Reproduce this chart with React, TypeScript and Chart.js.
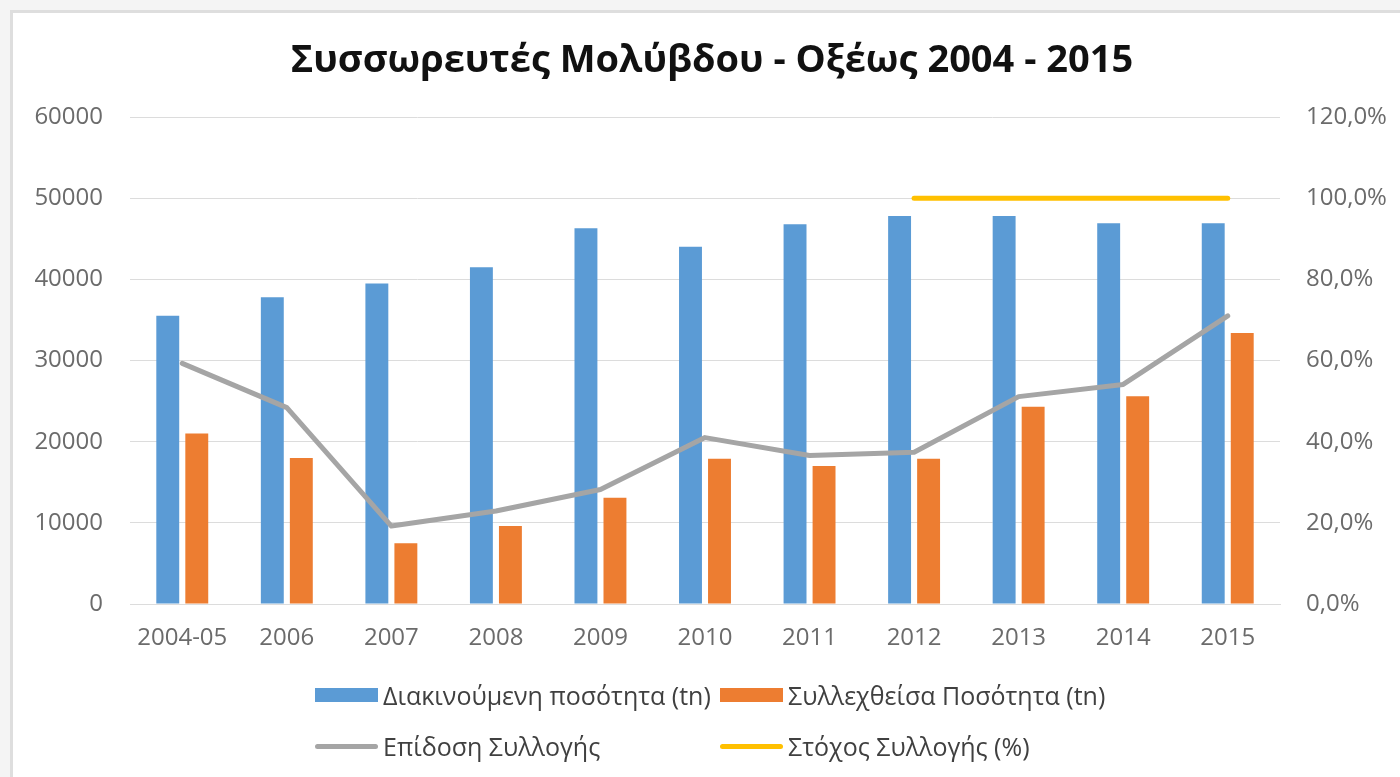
import React, { useEffect, useRef } from "react";
import { Chart, registerables } from "chart.js";

Chart.register(...registerables);

const categories = ["2004-05", "2006", "2007", "2008", "2009", "2010", "2011", "2012", "2013", "2014", "2015"];
const handledTonnes = [35500, 37800, 39500, 41500, 46300, 44000, 46800, 47800, 47800, 46900, 46900];
const collectedTonnes = [21000, 18000, 7500, 9600, 13100, 17900, 17000, 17900, 24300, 25600, 33400];
const collectionRate = [59.3, 48.4, 19.2, 22.9, 28.2, 41.0, 36.6, 37.4, 51.1, 54.1, 71.0];
const collectionTarget = [null, null, null, null, null, null, null, 100, 100, 100, 100];

const TITLE = "Συσσωρευτές Μολύβδου - Οξέως 2004 - 2015";
const LABEL_HANDLED = "Διακινούμενη ποσότητα (tn)";
const LABEL_COLLECTED = "Συλλεχθείσα Ποσότητα (tn)";
const LABEL_RATE = "Επίδοση Συλλογής";
const LABEL_TARGET = "Στόχος Συλλογής (%)";

const BLUE = "#5B9BD5";
const ORANGE = "#ED7D31";
const GRAY = "#A5A5A5";
const YELLOW = "#FFC000";
const TICK = "#6b6b6b";
const GRID = "#dcdcdc";

const tickFont = { family: "'Open Sans', 'Noto Sans', sans-serif", size: 24 };
const legendFont = "'Open Sans', 'Noto Sans', sans-serif";

export default function App() {
  const ref = useRef<HTMLCanvasElement | null>(null);

  useEffect(() => {
    document.body.style.margin = "0";
    const ctx = ref.current;
    if (!ctx) return;
    const chart = new Chart(ctx, {
      type: "bar",
      data: {
        labels: categories,
        datasets: [
          {
            type: "line",
            label: LABEL_RATE,
            data: collectionRate,
            yAxisID: "yRight",
            borderColor: GRAY,
            backgroundColor: GRAY,
            borderWidth: 5,
            pointRadius: 0,
            tension: 0,
            borderCapStyle: "round",
            borderJoinStyle: "round",
            order: 1,
          },
          {
            type: "line",
            label: LABEL_TARGET,
            data: collectionTarget,
            yAxisID: "yRight",
            borderColor: YELLOW,
            backgroundColor: YELLOW,
            borderWidth: 5,
            pointRadius: 0,
            tension: 0,
            borderCapStyle: "round",
            order: 0,
          },
          {
            type: "bar",
            label: LABEL_HANDLED,
            data: handledTonnes,
            yAxisID: "yLeft",
            backgroundColor: BLUE,
            categoryPercentage: 0.555,
            barPercentage: 0.79,
            order: 3,
          },
          {
            type: "bar",
            label: LABEL_COLLECTED,
            data: collectedTonnes,
            yAxisID: "yLeft",
            backgroundColor: ORANGE,
            categoryPercentage: 0.555,
            barPercentage: 0.79,
            order: 3,
          },
        ] as any,
      },
      options: {
        responsive: false,
        animation: false,
        layout: { padding: { left: 24, right: 0, top: 10, bottom: 113 } },
        plugins: {
          legend: { display: false },
          tooltip: { enabled: false },
          title: {
            display: true,
            text: TITLE,
            color: "#111",
            font: { family: "'Open Sans', 'Noto Sans', sans-serif", size: 38, weight: "bold" },
            padding: { top: 28, bottom: 33.4 },
          },
        },
        scales: {
          x: {
            grid: { display: false, drawTicks: false },
            border: { display: true, color: GRID, width: 1 },
            ticks: { color: TICK, font: tickFont, padding: 20, maxRotation: 0, autoSkip: false },
            afterFit: (s: any) => {
              s.height = 60;
            },
          },
          yLeft: {
            position: "left",
            min: 0,
            max: 60000,
            ticks: {
              stepSize: 10000,
              color: TICK,
              font: tickFont,
              padding: 27,
              callback: (v: any) => String(v),
            },
            grid: { color: GRID, lineWidth: 1, drawTicks: false },
            border: { display: false },
            afterFit: (s: any) => {
              s.width = 106;
            },
          },
          yRight: {
            position: "right",
            min: 0,
            max: 120,
            ticks: {
              stepSize: 20,
              color: TICK,
              font: tickFont,
              padding: 26,
              callback: (v: any) => Number(v).toFixed(1).replace(".", ",") + "%",
            },
            grid: { display: false, drawTicks: false },
            border: { display: false },
            afterFit: (s: any) => {
              s.width = 120;
            },
          },
        },
      } as any,
    });
    return () => chart.destroy();
  }, []);

  const item = (kind: "box" | "line", color: string, text: string) => (
    <div style={{ display: "flex", alignItems: "center", height: 30 }}>
      <span
        style={{
          display: "inline-block",
          width: 63,
          height: kind === "box" ? 14 : 5,
          background: color,
          borderRadius: kind === "line" ? 3 : 0,
          marginRight: 5,
        }}
      />
      <span style={{ fontFamily: legendFont, fontSize: 25, color: "#404040", whiteSpace: "nowrap" }}>{text}</span>
    </div>
  );

  return (
    <div style={{ position: "fixed", left: 0, top: 0, width: 1400, height: 777, background: "#f4f4f4", overflow: "hidden" }}>
      <div
        style={{
          position: "absolute",
          left: 10,
          top: 10,
          width: 1400,
          height: 780,
          background: "#ffffff",
          border: "3px solid #dedede",
          boxSizing: "border-box",
        }}
      />
      <canvas ref={ref} width={1400} height={777} style={{ position: "absolute", left: 0, top: 0, width: 1400, height: 777 }} />
      <div style={{ position: "absolute", left: 315, top: 680, display: "grid", gridTemplateColumns: "405px auto", rowGap: 21 }}>
        {item("box", BLUE, LABEL_HANDLED)}
        {item("box", ORANGE, LABEL_COLLECTED)}
        {item("line", GRAY, LABEL_RATE)}
        {item("line", YELLOW, LABEL_TARGET)}
      </div>
    </div>
  );
}
